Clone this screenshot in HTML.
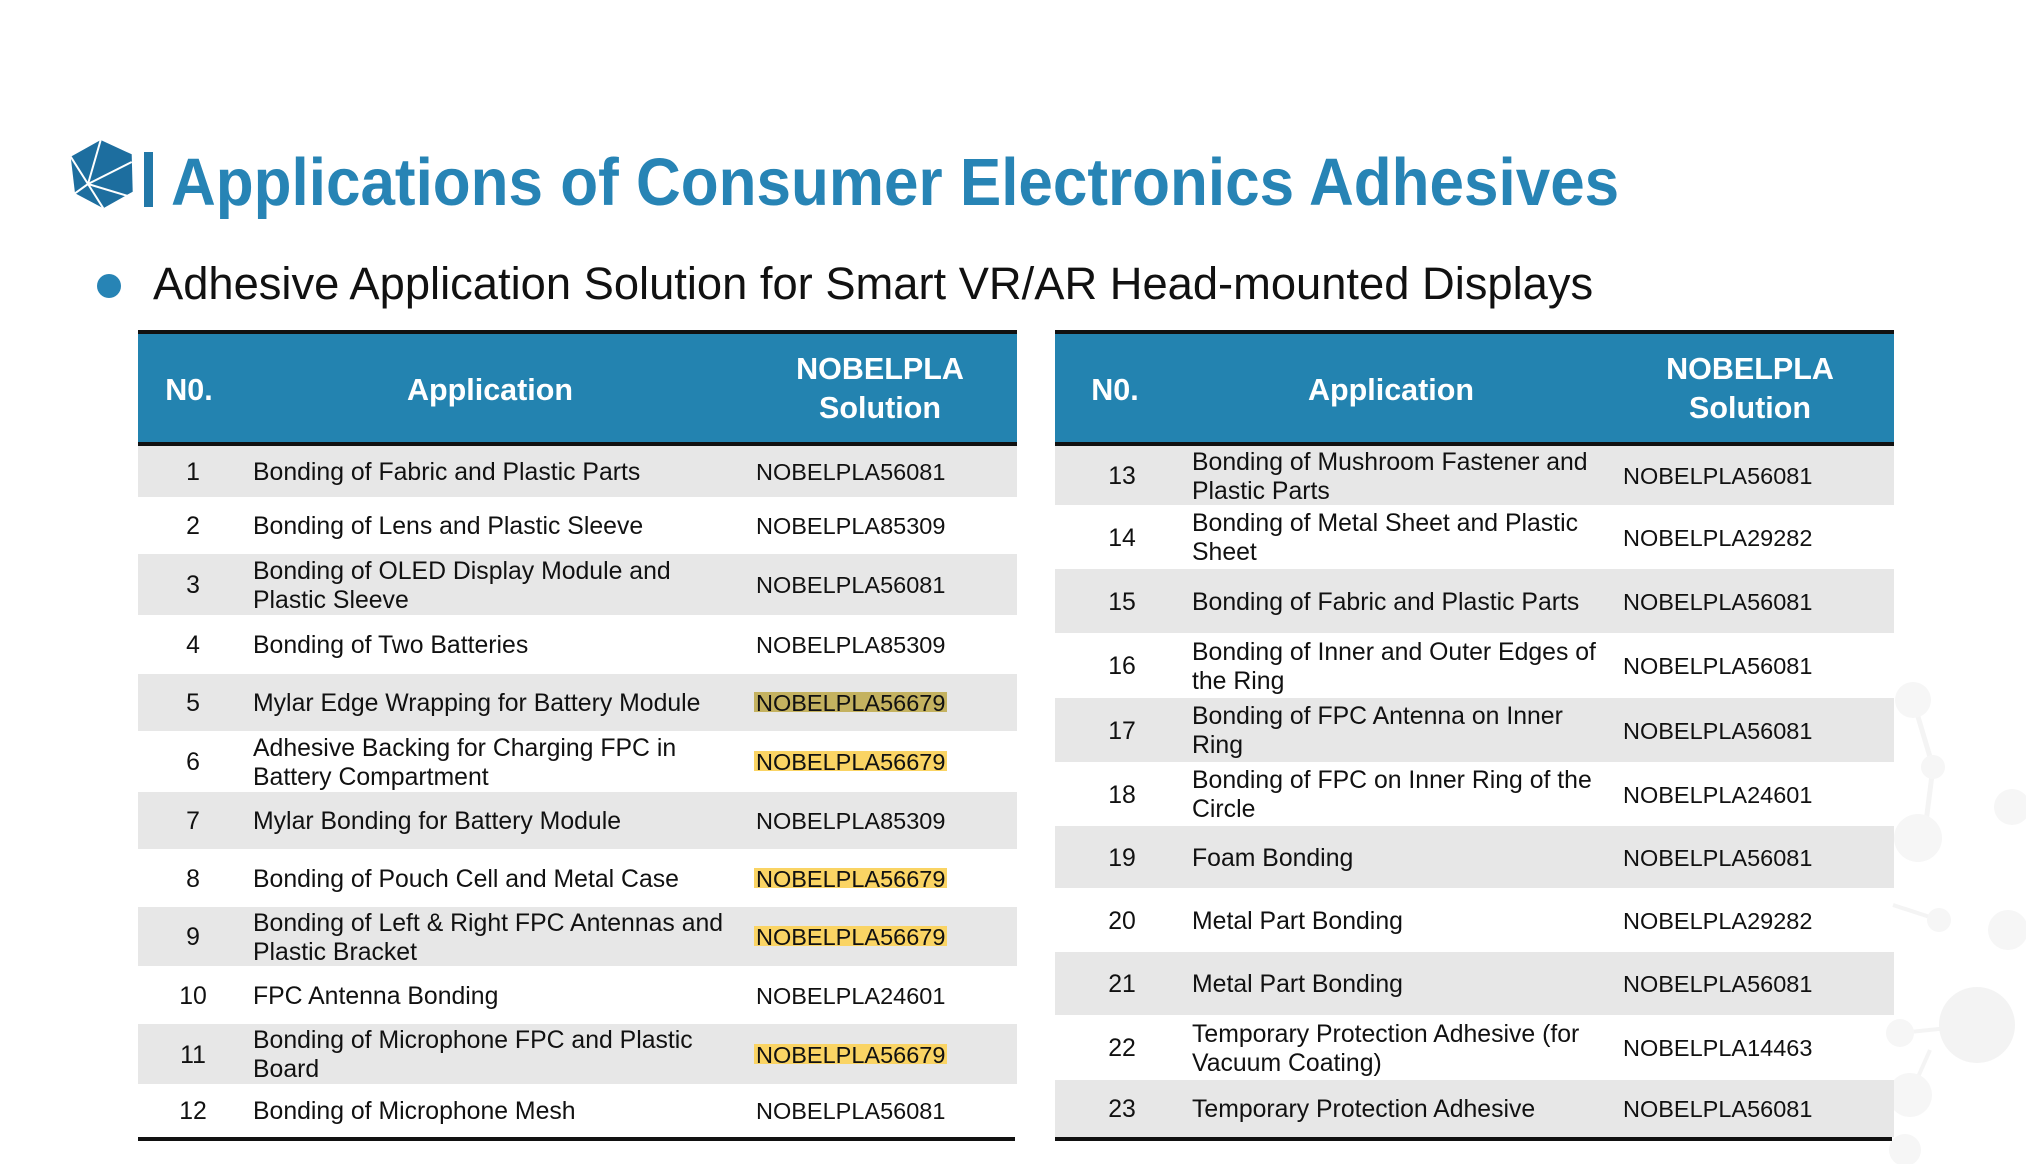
<!DOCTYPE html>
<html>
<head>
<meta charset="utf-8">
<style>
  html,body{margin:0;padding:0;background:#fff;}
  body{width:2026px;height:1164px;position:relative;overflow:hidden;font-family:"Liberation Sans",Arial,sans-serif;}
  .abs{position:absolute;}
  .title{position:absolute;left:171px;top:153.5px;font-size:62px;line-height:62px;font-weight:bold;color:#2784b5;white-space:nowrap;transform:scaleY(1.08);transform-origin:0 52.5px;}
  .sub{position:absolute;left:153px;top:261px;font-size:45.3px;line-height:45px;color:#111;white-space:nowrap;}
  .bar{position:absolute;height:4px;background:#111;}
  .hdr{position:absolute;top:334px;height:108px;background:#2383b0;}
  .ht{position:absolute;color:#fff;font-weight:bold;font-size:30.5px;text-align:center;white-space:nowrap;}
  .row{position:absolute;}
  .g{background:#e7e7e7;}
  .c{position:absolute;top:0;bottom:0;display:flex;align-items:center;padding-top:2px;box-sizing:border-box;font-size:24.8px;line-height:29px;color:#111;white-space:nowrap;}
  .n{justify-content:center;width:100px;}
  .s{font-size:23.5px;}
  .hl{padding:0 2px;margin-left:-2px;background:linear-gradient(to bottom,transparent 3px,#fad464 3px,#fad464 23px,transparent 23px);}
  .ho{padding:0 2px;margin-left:-2px;background:linear-gradient(to bottom,transparent 3px,#c4b260 3px,#c4b260 23px,transparent 23px);}
</style>
</head>
<body>
<svg class="abs" style="left:0;top:0" width="2026" height="1164" viewBox="0 0 2026 1164">
  <!-- logo hexagon -->
  <polygon points="100.7,140 131.7,154.3 132.7,191.7 103.3,208.3 75,193.3 70.7,156.7" fill="#1d6e9f"/>
  <g stroke="#fff" stroke-width="2" fill="none">
    <line x1="100.7" y1="140" x2="88" y2="184"/>
    <line x1="70.7" y1="156.7" x2="88" y2="184"/>
    <line x1="88" y1="184" x2="131.7" y2="162"/>
    <line x1="88" y1="184" x2="128" y2="196"/>
    <line x1="88" y1="184" x2="103.3" y2="208.3"/>
    <line x1="75" y1="193.3" x2="88" y2="184"/>
  </g>
  <rect x="144" y="152" width="9" height="55" fill="#2278a8"/>
  <!-- bullet -->
  <circle cx="109" cy="286" r="12" fill="#2784b5"/>
  <!-- decorative molecules (faint) -->
  <g fill="#f6f6f6" stroke="none">
    <line x1="1913" y1="700" x2="1933" y2="767" stroke="#f4f4f4" stroke-width="5"/>
    <line x1="1933" y1="767" x2="1925" y2="830" stroke="#f4f4f4" stroke-width="5"/>
    <line x1="1893" y1="905" x2="1939" y2="920" stroke="#f4f4f4" stroke-width="4"/>
    <line x1="1900" y1="1033" x2="1977" y2="1025" stroke="#f4f4f4" stroke-width="4"/>
    <line x1="1910" y1="1095" x2="1930" y2="1050" stroke="#f4f4f4" stroke-width="4"/>
    <circle cx="1913" cy="700" r="18"/>
    <circle cx="1933" cy="767" r="12"/>
    <circle cx="1918" cy="838" r="24"/>
    <circle cx="2012" cy="807" r="18"/>
    <circle cx="1939" cy="920" r="12"/>
    <circle cx="2008" cy="930" r="20"/>
    <circle cx="1977" cy="1025" r="38" fill="#f3f3f3"/>
    <circle cx="1900" cy="1033" r="14"/>
    <circle cx="1910" cy="1095" r="22"/>
    <circle cx="1905" cy="1150" r="16"/>
  </g>
</svg>

<div class="title">Applications of Consumer Electronics Adhesives</div>
<div class="sub">Adhesive Application Solution for Smart VR/AR Head-mounted Displays</div>

<!-- LEFT TABLE -->
<div class="bar" style="left:138px;width:879px;top:330px;"></div>
<div class="hdr" style="left:138px;width:879px;"></div>
<div class="bar" style="left:138px;width:879px;top:442px;"></div>
<div class="ht" style="left:89px;width:200px;top:375px;line-height:30.5px;">N0.</div>
<div class="ht" style="left:340px;width:300px;top:375px;line-height:30.5px;">Application</div>
<div class="ht" style="left:730px;width:300px;top:350px;line-height:39px;">NOBELPLA<br>Solution</div>

<div class="row g" style="left:138px;width:879px;top:446px;height:51px;"><div class="c n" style="left:5px">1</div><div class="c" style="left:115px">Bonding of Fabric and Plastic Parts</div><div class="c s" style="left:618px">NOBELPLA56081</div></div>
<div class="row" style="left:138px;width:879px;top:497px;height:57px;"><div class="c n" style="left:5px">2</div><div class="c" style="left:115px">Bonding of Lens and Plastic Sleeve</div><div class="c s" style="left:618px">NOBELPLA85309</div></div>
<div class="row g" style="left:138px;width:879px;top:554px;height:61px;"><div class="c n" style="left:5px">3</div><div class="c" style="left:115px">Bonding of OLED Display Module and<br>Plastic Sleeve</div><div class="c s" style="left:618px">NOBELPLA56081</div></div>
<div class="row" style="left:138px;width:879px;top:615px;height:59px;"><div class="c n" style="left:5px">4</div><div class="c" style="left:115px">Bonding of Two Batteries</div><div class="c s" style="left:618px">NOBELPLA85309</div></div>
<div class="row g" style="left:138px;width:879px;top:674px;height:57px;"><div class="c n" style="left:5px">5</div><div class="c" style="left:115px">Mylar Edge Wrapping for Battery Module</div><div class="c s" style="left:618px"><span class="ho">NOBELPLA56679</span></div></div>
<div class="row" style="left:138px;width:879px;top:731px;height:61px;"><div class="c n" style="left:5px">6</div><div class="c" style="left:115px">Adhesive Backing for Charging FPC in<br>Battery Compartment</div><div class="c s" style="left:618px"><span class="hl">NOBELPLA56679</span></div></div>
<div class="row g" style="left:138px;width:879px;top:792px;height:57px;"><div class="c n" style="left:5px">7</div><div class="c" style="left:115px">Mylar Bonding for Battery Module</div><div class="c s" style="left:618px">NOBELPLA85309</div></div>
<div class="row" style="left:138px;width:879px;top:849px;height:58px;"><div class="c n" style="left:5px">8</div><div class="c" style="left:115px">Bonding of Pouch Cell and Metal Case</div><div class="c s" style="left:618px"><span class="hl">NOBELPLA56679</span></div></div>
<div class="row g" style="left:138px;width:879px;top:907px;height:59px;"><div class="c n" style="left:5px">9</div><div class="c" style="left:115px">Bonding of Left &amp; Right FPC Antennas and<br>Plastic Bracket</div><div class="c s" style="left:618px"><span class="hl">NOBELPLA56679</span></div></div>
<div class="row" style="left:138px;width:879px;top:966px;height:58px;"><div class="c n" style="left:5px">10</div><div class="c" style="left:115px">FPC Antenna Bonding</div><div class="c s" style="left:618px">NOBELPLA24601</div></div>
<div class="row g" style="left:138px;width:879px;top:1024px;height:60px;"><div class="c n" style="left:5px">11</div><div class="c" style="left:115px">Bonding of Microphone FPC and Plastic<br>Board</div><div class="c s" style="left:618px"><span class="hl">NOBELPLA56679</span></div></div>
<div class="row" style="left:138px;width:879px;top:1084px;height:53px;"><div class="c n" style="left:5px">12</div><div class="c" style="left:115px">Bonding of Microphone Mesh</div><div class="c s" style="left:618px">NOBELPLA56081</div></div>
<div class="bar" style="left:138px;width:877px;top:1137px;"></div>

<!-- RIGHT TABLE -->
<div class="bar" style="left:1055px;width:839px;top:330px;"></div>
<div class="hdr" style="left:1055px;width:839px;"></div>
<div class="bar" style="left:1055px;width:839px;top:442px;"></div>
<div class="ht" style="left:1015px;width:200px;top:375px;line-height:30.5px;">N0.</div>
<div class="ht" style="left:1241px;width:300px;top:375px;line-height:30.5px;">Application</div>
<div class="ht" style="left:1600px;width:300px;top:350px;line-height:39px;">NOBELPLA<br>Solution</div>

<div class="row g" style="left:1055px;width:839px;top:446px;height:59px;"><div class="c n" style="left:17px">13</div><div class="c" style="left:137px">Bonding of Mushroom Fastener and<br>Plastic Parts</div><div class="c s" style="left:568px">NOBELPLA56081</div></div>
<div class="row" style="left:1055px;width:839px;top:505px;height:64px;"><div class="c n" style="left:17px">14</div><div class="c" style="left:137px">Bonding of Metal Sheet and Plastic<br>Sheet</div><div class="c s" style="left:568px">NOBELPLA29282</div></div>
<div class="row g" style="left:1055px;width:839px;top:569px;height:64px;"><div class="c n" style="left:17px">15</div><div class="c" style="left:137px">Bonding of Fabric and Plastic Parts</div><div class="c s" style="left:568px">NOBELPLA56081</div></div>
<div class="row" style="left:1055px;width:839px;top:633px;height:65px;"><div class="c n" style="left:17px">16</div><div class="c" style="left:137px">Bonding of Inner and Outer Edges of<br>the Ring</div><div class="c s" style="left:568px">NOBELPLA56081</div></div>
<div class="row g" style="left:1055px;width:839px;top:698px;height:64px;"><div class="c n" style="left:17px">17</div><div class="c" style="left:137px">Bonding of FPC Antenna on Inner<br>Ring</div><div class="c s" style="left:568px">NOBELPLA56081</div></div>
<div class="row" style="left:1055px;width:839px;top:762px;height:64px;"><div class="c n" style="left:17px">18</div><div class="c" style="left:137px">Bonding of FPC on Inner Ring of the<br>Circle</div><div class="c s" style="left:568px">NOBELPLA24601</div></div>
<div class="row g" style="left:1055px;width:839px;top:826px;height:62px;"><div class="c n" style="left:17px">19</div><div class="c" style="left:137px">Foam Bonding</div><div class="c s" style="left:568px">NOBELPLA56081</div></div>
<div class="row" style="left:1055px;width:839px;top:888px;height:64px;"><div class="c n" style="left:17px">20</div><div class="c" style="left:137px">Metal Part Bonding</div><div class="c s" style="left:568px">NOBELPLA29282</div></div>
<div class="row g" style="left:1055px;width:839px;top:952px;height:63px;"><div class="c n" style="left:17px">21</div><div class="c" style="left:137px">Metal Part Bonding</div><div class="c s" style="left:568px">NOBELPLA56081</div></div>
<div class="row" style="left:1055px;width:839px;top:1015px;height:65px;"><div class="c n" style="left:17px">22</div><div class="c" style="left:137px">Temporary Protection Adhesive (for<br>Vacuum Coating)</div><div class="c s" style="left:568px">NOBELPLA14463</div></div>
<div class="row g" style="left:1055px;width:839px;top:1080px;height:57px;"><div class="c n" style="left:17px">23</div><div class="c" style="left:137px">Temporary Protection Adhesive</div><div class="c s" style="left:568px">NOBELPLA56081</div></div>
<div class="bar" style="left:1055px;width:837px;top:1137px;"></div>

</body>
</html>
